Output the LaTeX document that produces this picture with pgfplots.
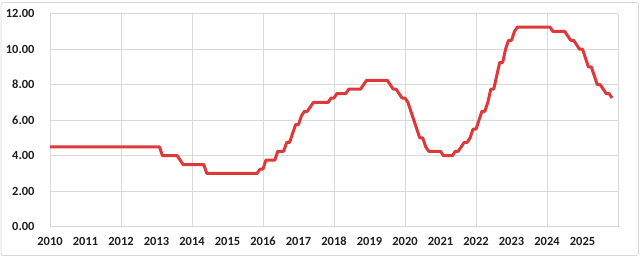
\documentclass[border=0pt]{standalone}
\usepackage{pgfplots}
\pgfplotsset{compat=1.18}
\usepackage{fontspec}
\setmainfont{Carlito}
\definecolor{linered}{RGB}{222,56,56}
\definecolor{gridgray}{RGB}{217,217,217}
\definecolor{txt}{RGB}{30,30,30}
\begin{document}
\begin{tikzpicture}
\useasboundingbox (0,0) rectangle (640bp,258bp);
\draw[gridgray, line width=0.8bp, rounded corners=2bp] (1bp,2.5bp) rectangle (638.5bp,255.5bp);
\begin{axis}[
  at={(50bp,31.3bp)}, anchor=south west,
  scale only axis, width=568bp, height=213bp,
  xmin=2010, xmax=2026, ymin=0, ymax=12,
  axis line style={draw=none},
  xtick={2010,2012,...,2026},
  xticklabels={},
  extra x ticks={2010,2011,...,2025},
  extra x tick labels={2010,2011,2012,2013,2014,2015,2016,2017,2018,2019,2020,2021,2022,2023,2024,2025},
  extra x tick style={grid=none, major tick length=0pt},
  ytick={0,2,...,12},
  yticklabel={\pgfmathprintnumber[fixed,fixed zerofill,precision=2]{\tick}},
  /pgf/number format/assume math mode=true,
  xmajorgrids, ymajorgrids,
  major grid style={gridgray, line width=0.8bp},
  tick style={gridgray, line width=0.8bp},
  xtick pos=bottom, ytick pos=left,
  major tick length=3.5bp,
  y tick style={draw=none},
  tick label style={font=\fontsize{12.5}{14}\selectfont\bfseries, text=txt},
  xticklabel style={yshift=-7bp},
  yticklabel style={xshift=-12bp},
  clip=false,
]
\addplot[linered, line width=3bp, line join=round] table[x=x,y=y] {
x y
2010.000 4.5
2010.083 4.5
2010.167 4.5
2010.250 4.5
2010.333 4.5
2010.417 4.5
2010.500 4.5
2010.583 4.5
2010.667 4.5
2010.750 4.5
2010.833 4.5
2010.917 4.5
2011.000 4.5
2011.500 4.5
2012.000 4.5
2012.500 4.5
2012.917 4.5
2013.000 4.5
2013.083 4.5
2013.167 4.0
2013.250 4.0
2013.333 4.0
2013.417 4.0
2013.500 4.0
2013.583 4.0
2013.667 3.75
2013.750 3.5
2013.833 3.5
2013.917 3.5
2014.000 3.5
2014.083 3.5
2014.167 3.5
2014.250 3.5
2014.333 3.5
2014.417 3.0
2014.500 3.0
2014.583 3.0
2014.667 3.0
2014.750 3.0
2014.833 3.0
2014.917 3.0
2015.000 3.0
2015.500 3.0
2015.833 3.0
2015.917 3.25
2016.000 3.25
2016.083 3.75
2016.167 3.75
2016.250 3.75
2016.333 3.75
2016.417 4.25
2016.500 4.25
2016.583 4.25
2016.667 4.75
2016.750 4.75
2016.833 5.25
2016.917 5.75
2017.000 5.75
2017.083 6.25
2017.167 6.5
2017.250 6.5
2017.333 6.75
2017.417 7.0
2017.500 7.0
2017.583 7.0
2017.667 7.0
2017.750 7.0
2017.833 7.0
2017.917 7.25
2018.000 7.25
2018.083 7.5
2018.167 7.5
2018.250 7.5
2018.333 7.5
2018.417 7.75
2018.500 7.75
2018.583 7.75
2018.667 7.75
2018.750 7.75
2018.833 8.0
2018.917 8.25
2019.000 8.25
2019.083 8.25
2019.167 8.25
2019.250 8.25
2019.333 8.25
2019.417 8.25
2019.500 8.25
2019.583 8.0
2019.667 7.75
2019.750 7.75
2019.833 7.5
2019.917 7.25
2020.000 7.25
2020.083 7.0
2020.167 6.5
2020.250 6.0
2020.333 5.5
2020.417 5.0
2020.500 5.0
2020.583 4.5
2020.667 4.25
2020.750 4.25
2020.833 4.25
2020.917 4.25
2021.000 4.25
2021.083 4.0
2021.167 4.0
2021.250 4.0
2021.333 4.0
2021.417 4.25
2021.500 4.25
2021.583 4.5
2021.667 4.75
2021.750 4.75
2021.833 5.0
2021.917 5.5
2022.000 5.5
2022.083 6.0
2022.167 6.5
2022.250 6.5
2022.333 7.0
2022.417 7.75
2022.500 7.75
2022.583 8.5
2022.667 9.25
2022.750 9.25
2022.833 10.0
2022.917 10.5
2023.000 10.5
2023.083 11.0
2023.167 11.25
2023.250 11.25
2023.500 11.25
2023.750 11.25
2024.000 11.25
2024.083 11.25
2024.167 11.0
2024.250 11.0
2024.333 11.0
2024.417 11.0
2024.500 11.0
2024.583 10.75
2024.667 10.5
2024.750 10.5
2024.833 10.25
2024.917 10.0
2025.000 10.0
2025.083 9.5
2025.167 9.0
2025.250 9.0
2025.333 8.5
2025.417 8.0
2025.500 8.0
2025.583 7.75
2025.667 7.5
2025.750 7.5
2025.833 7.25
};
\draw[gridgray, line width=0.8bp] (axis cs:2010,0) -- (axis cs:2026,0);
\end{axis}
\end{tikzpicture}
\end{document}
